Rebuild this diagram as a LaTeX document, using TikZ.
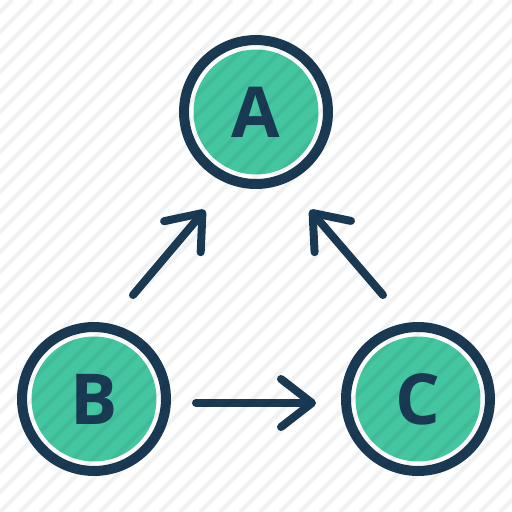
\documentclass[tikz,border=0pt]{standalone}
\usepackage{fontspec}
\setmainfont{Open Sans}
\usetikzlibrary{arrows.meta}
\definecolor{navy}{RGB}{26,58,84}
\definecolor{mint}{RGB}{68,198,160}

\begin{document}
\begin{tikzpicture}[x=0.02cm,y=-0.02cm,
  vertex/.style={circle,draw=navy,line width=0.2cm,fill=white,minimum size=2.88cm,inner sep=0pt,
    text=navy,font=\bfseries\fontsize{40}{40}\selectfont,
    path picture={\fill[mint] (path picture bounding box.center) circle (1.25cm);}},
  link/.style={draw=navy,line width=0.16cm,line cap=round,
    -{Straight Barb[length=0.62cm,width=0.96cm,round]}}]
  \useasboundingbox (0,0) rectangle (512,512);
  \fill[white] (0,0) rectangle (512,512);
  \node[vertex] (A) at (256,112) {A};
  \node[vertex] (B) at (94,399) {B};
  \node[vertex] (C) at (418,399) {C};
  \coordinate (b-up) at (133,295);
  \coordinate (a-left) at (205,210);
  \coordinate (c-up) at (383,295);
  \coordinate (a-right) at (310,210);
  \coordinate (b-right) at (196,403);
  \coordinate (c-left) at (316,403);
  \path[link] (b-up) -- (a-left);
  \path[link] (c-up) -- (a-right);
  \path[link] (b-right) -- (c-left);
  % stripes over the whole icon
  \begin{scope}
    \clip (0,0) rectangle (512,512);
    \foreach \i in {-520,-500,...,520}
      \draw[black,opacity=0.055,line width=0.08cm] (\i,512) -- ++(512,-512);
  \end{scope}
\end{tikzpicture}
\end{document}
